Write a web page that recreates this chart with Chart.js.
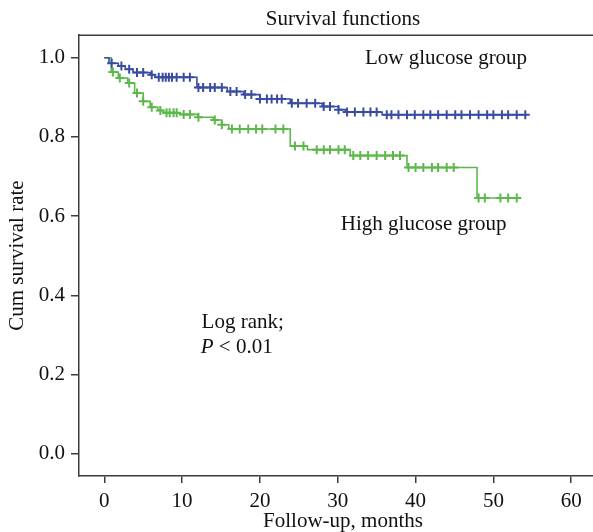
<!DOCTYPE html>
<html>
<head>
<meta charset="utf-8">
<script src="https://cdn.jsdelivr.net/npm/chart.js@4.4.1/dist/chart.umd.min.js"></script>
<style>
  body { margin: 0; background: #fff; overflow: hidden; }
  #wrap { width: 620px; height: 532px; }
</style>
</head>
<body>
<div id="wrap"><canvas id="chart" width="620" height="532"></canvas></div>
<script>
// Low glucose group: event times (months) and survival after each step
const lowTimes = [0, 0.6, 1.8, 2.7, 3.7, 5.9, 6.5, 11.9, 15.8, 17.9, 20.0, 23.9, 28.0, 30.1, 31.0, 35.7];
const lowSurv  = [1.0, 0.986, 0.979, 0.971, 0.963, 0.957, 0.951, 0.925, 0.915, 0.907, 0.896, 0.885, 0.877, 0.869, 0.863, 0.856];
const lowEnd = 54.3;
const lowCensored = [0.95, 2.2, 3.2, 4.2, 5.0, 6.1, 7.0, 7.5, 7.9, 8.3, 8.7, 9.3, 10.2, 11.0, 12.1, 12.7, 13.6, 14.2,
  15.1, 16.2, 17.0, 18.1, 18.9, 20.0, 20.9, 21.5, 22.2, 22.8, 24.1, 24.9, 26.0, 27.1, 28.2, 29.0, 30.1, 31.2,
  32.2, 33.3, 34.2, 35.0, 36.3, 36.9, 37.8, 38.9, 39.9, 41.0, 41.9, 42.9, 44.0, 45.1, 45.9, 47.0, 48.1, 49.2,
  50.0, 51.1, 51.9, 53.0, 54.1];

// High glucose group
const highTimes = [0, 0.9, 1.8, 3.0, 3.9, 5.0, 5.9, 6.9, 7.6, 9.7, 12.0, 14.0, 15.1, 16.0, 23.9, 26.1, 31.6, 38.9, 47.9];
const highSurv  = [1.0, 0.964, 0.949, 0.936, 0.911, 0.890, 0.875, 0.867, 0.861, 0.857, 0.850, 0.843, 0.831, 0.820, 0.777, 0.768, 0.753, 0.723, 0.646];
const highEnd = 53.4;
const highCensored = [1.1, 2.0, 3.2, 4.2, 5.0, 6.1, 7.2, 8.0, 8.4, 8.9, 9.3, 10.2, 11.0, 12.1, 14.2, 15.1, 16.4,
  17.4, 18.5, 19.5, 20.3, 22.0, 23.0, 24.5, 25.6, 27.3, 28.2, 29.0, 30.1, 30.9, 32.0, 32.9, 33.9, 35.0, 36.1,
  37.1, 38.0, 39.1, 40.0, 41.0, 42.1, 42.9, 44.0, 44.9, 48.1, 48.9, 50.9, 51.9, 53.0];

const xTicks = [0, 10, 20, 30, 40, 50, 60];
const yTicks = [0, 0.2, 0.4, 0.6, 0.8, 1.0];

const lowColor = '#3a4ca2';
const highColor = '#5cb84b';
const axisColor = '#3c3c3c';
const serif = "'Liberation Serif', 'Times New Roman', serif";
const fontSize = 21;

function stepPoints(times, surv, end) {
    const pts = times.map((t, i) => ({x: t, y: surv[i]}));
    pts.push({x: end, y: surv[surv.length - 1]});
    return pts;
}

// survival value of the curve at time t (for placing censor marks)
function survAt(times, surv, t) {
    let s = surv[0];
    for (let i = 0; i < times.length; i++) {
        if (times[i] <= t) s = surv[i];
    }
    return s;
}

const censorPoints = (cens, times, surv) => cens.map(t => ({x: t, y: survAt(times, surv, t)}));

const lineDs = (label, data, color) => ({
    type: 'line', label, data, borderColor: color, borderWidth: 1.6,
    stepped: 'before', pointRadius: 0, fill: false
});
const censorDs = (label, data, color) => ({
    type: 'scatter', label, data, borderColor: color, backgroundColor: color,
    pointStyle: 'cross', pointRadius: 4.5, borderWidth: 2, showLine: false
});

// labels placed in data coordinates
const notes = [
    {text: 'Low glucose group', x: 33.5, y: 0.985},
    {text: 'High glucose group', x: 30.4, y: 0.566},
    {text: 'Log rank;', x: 12.5, y: 0.317}
];
const pNote = {x: 12.4, y: 0.254};

const annotations = {
    id: 'annotations',
    afterDatasetsDraw(chart) {
        const {ctx, chartArea, scales: {x, y}} = chart;
        ctx.save();
        // top frame line
        ctx.strokeStyle = axisColor;
        ctx.lineWidth = 1.5;
        ctx.beginPath();
        ctx.moveTo(chartArea.left, chartArea.top);
        ctx.lineTo(chartArea.right, chartArea.top);
        ctx.stroke();

        ctx.fillStyle = '#111';
        ctx.textBaseline = 'alphabetic';
        ctx.textAlign = 'left';
        ctx.font = fontSize + 'px ' + serif;
        notes.forEach(n => ctx.fillText(n.text, x.getPixelForValue(n.x), y.getPixelForValue(n.y)));

        const px = x.getPixelForValue(pNote.x), py = y.getPixelForValue(pNote.y);
        ctx.font = 'italic ' + fontSize + 'px ' + serif;
        ctx.fillText('P', px, py);
        const w = ctx.measureText('P').width;
        ctx.font = fontSize + 'px ' + serif;
        ctx.fillText(' < 0.01', px + w, py);
        ctx.restore();
    }
};

const ctx = document.getElementById('chart');

const myChart = new Chart(ctx, {
    data: {
        datasets: [
            lineDs('Low glucose group', stepPoints(lowTimes, lowSurv, lowEnd), lowColor),
            censorDs('Low censored', censorPoints(lowCensored, lowTimes, lowSurv), lowColor),
            lineDs('High glucose group', stepPoints(highTimes, highSurv, highEnd), highColor),
            censorDs('High censored', censorPoints(highCensored, highTimes, highSurv), highColor)
        ]
    },
    options: {
        responsive: false,
        animation: false,
        layout: { padding: {top: 0, right: 13, bottom: 0, left: 0} },
        plugins: {
            legend: { display: false },
            tooltip: { enabled: false },
            title: {
                display: true,
                text: 'Survival functions',
                fullSize: false,
                color: '#111',
                font: {family: serif, size: fontSize, weight: 'normal', lineHeight: 1.2},
                padding: {top: 7, bottom: 3}
            }
        },
        scales: {
            x: {
                type: 'linear',
                min: -3.25,
                max: 64.6,
                afterFit: s => { s.height = 56; },
                afterBuildTicks: s => { s.ticks = xTicks.map(v => ({value: v})); },
                ticks: {
                    color: '#111', padding: 6, maxRotation: 0,
                    font: {family: serif, size: fontSize}
                },
                grid: { drawOnChartArea: false, drawTicks: true, tickLength: 7, color: axisColor, lineWidth: 1.5 },
                border: { display: true, color: axisColor, width: 1.5 },
                title: {
                    display: true, text: 'Follow-up, months', color: '#111',
                    font: {family: serif, size: fontSize, lineHeight: 1.0},
                    padding: {top: 0, bottom: 0}
                }
            },
            y: {
                type: 'linear',
                min: -0.056,
                max: 1.057,
                afterFit: s => { s.width = 79; },
                afterBuildTicks: s => { s.ticks = yTicks.map(v => ({value: v})); },
                ticks: {
                    color: '#111', padding: 6,
                    font: {family: serif, size: fontSize},
                    callback: v => Number(v).toFixed(1)
                },
                grid: { drawOnChartArea: false, drawTicks: true, tickLength: 8, color: axisColor, lineWidth: 1.5 },
                border: { display: true, color: axisColor, width: 1.5 },
                title: {
                    display: true, text: 'Cum survival rate', color: '#111',
                    font: {family: serif, size: fontSize, lineHeight: 1.0},
                    padding: {top: 7, bottom: 0}
                }
            }
        }
    },
    plugins: [annotations]
});
</script>
</body>
</html>
